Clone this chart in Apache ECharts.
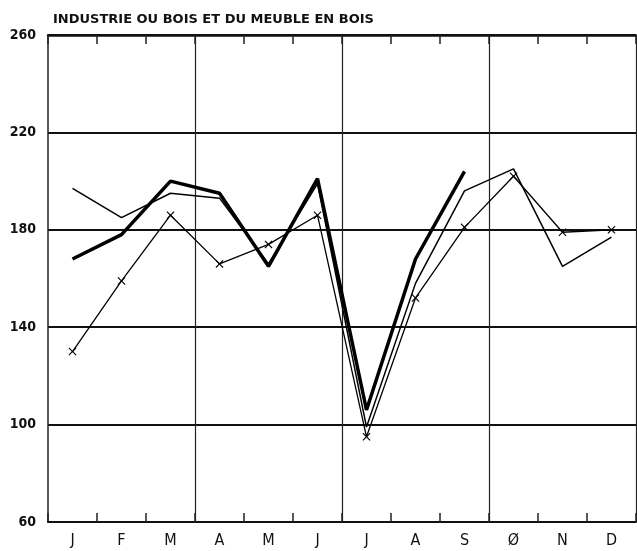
<!DOCTYPE html>
<html>
<head>
<meta charset="utf-8">
<script src="https://cdn.jsdelivr.net/npm/echarts@6/dist/echarts.min.js"></script>
<style>
html,body{margin:0;padding:0;background:#fff;}
#chart{width:637px;height:551px;}
</style>
</head>
<body>
<div id="chart"></div>
<script>
// mois
var months = ['J', 'F', 'M', 'A', 'M', 'J', 'J', 'A', 'S', 'Ø', 'N', 'D'];
var yTicks = [60, 100, 140, 180, 220, 260];

// courbe epaisse (s'arrete en septembre)
var serieEpaisse = [168, 178, 200, 195, 165, 201, 106, 168, 204, null, null, null];
// courbe fine sans marque
var serieFine = [197, 185, 195, 193, 166, 199, 99, 158, 196, 205, 165, 177];
// courbe avec croix
var serieCroix = [130, 159, 186, 166, 174, 186, 95, 152, 181, 202, 179, 180];

var crossPath = 'path://M0,1L1,0L5,4L9,0L10,1L6,5L10,9L9,10L5,6L1,10L0,9L4,5Z';

var myChart = echarts.init(document.querySelector('#chart'));
var option = {
    backgroundColor: '#fff',
    animation: false,
    title: {
        text: 'INDUSTRIE OU BOIS ET DU MEUBLE EN BOIS',
        left: 48,
        top: 8,
        textStyle: {
            color: '#111',
            fontSize: 13,
            fontWeight: 'bold',
            fontFamily: 'DejaVu Sans'
        }
    },
    grid: {
        left: 48,
        right: 1,
        top: 35,
        bottom: 29
    },
    xAxis: [
        {
            type: 'category',
            data: months,
            boundaryGap: true,
            axisLine: {lineStyle: {color: '#111', width: 2}},
            axisTick: {show: true, inside: true, length: 9, interval: 0, lineStyle: {color: '#222', width: 1.5}},
            axisLabel: {
                color: '#111',
                fontSize: 16,
                fontFamily: 'DejaVu Sans Condensed',
                margin: 11,
                interval: 0
            },
            splitLine: {
                show: true,
                interval: function (index) { return index % 3 === 0 && index > 0; },
                lineStyle: {color: '#222', width: 1.2}
            }
        },
        {
            type: 'category',
            data: months,
            position: 'top',
            boundaryGap: true,
            axisLine: {lineStyle: {color: '#111', width: 2.5}},
            axisTick: {show: true, inside: true, length: 9, interval: 0, lineStyle: {color: '#222', width: 1.5}},
            axisLabel: {show: false}
        }
    ],
    yAxis: {
        type: 'value',
        min: 60,
        max: 260,
        interval: 40,
        axisLine: {show: true, lineStyle: {color: '#222', width: 1.5}},
        axisTick: {show: false},
        axisLabel: {
            color: '#111',
            fontSize: 14,
            fontWeight: 'bold',
            fontFamily: 'DejaVu Sans Condensed',
            margin: 12
        },
        splitLine: {lineStyle: {color: '#111', width: 2}}
    },
    series: [
        {
            name: 'epaisse',
            type: 'line',
            data: serieEpaisse,
            symbol: 'none',
            lineStyle: {color: '#000', width: 3.5},
            z: 5
        },
        {
            name: 'fine',
            type: 'line',
            data: serieFine,
            symbol: 'none',
            lineStyle: {color: '#000', width: 1.5},
            z: 4
        },
        {
            name: 'croix',
            type: 'line',
            data: serieCroix,
            symbol: crossPath,
            symbolSize: 8,
            itemStyle: {color: '#000'},
            lineStyle: {color: '#000', width: 1.3},
            z: 4
        }
    ]
};
myChart.setOption(option, true);
</script>
</body>
</html>
